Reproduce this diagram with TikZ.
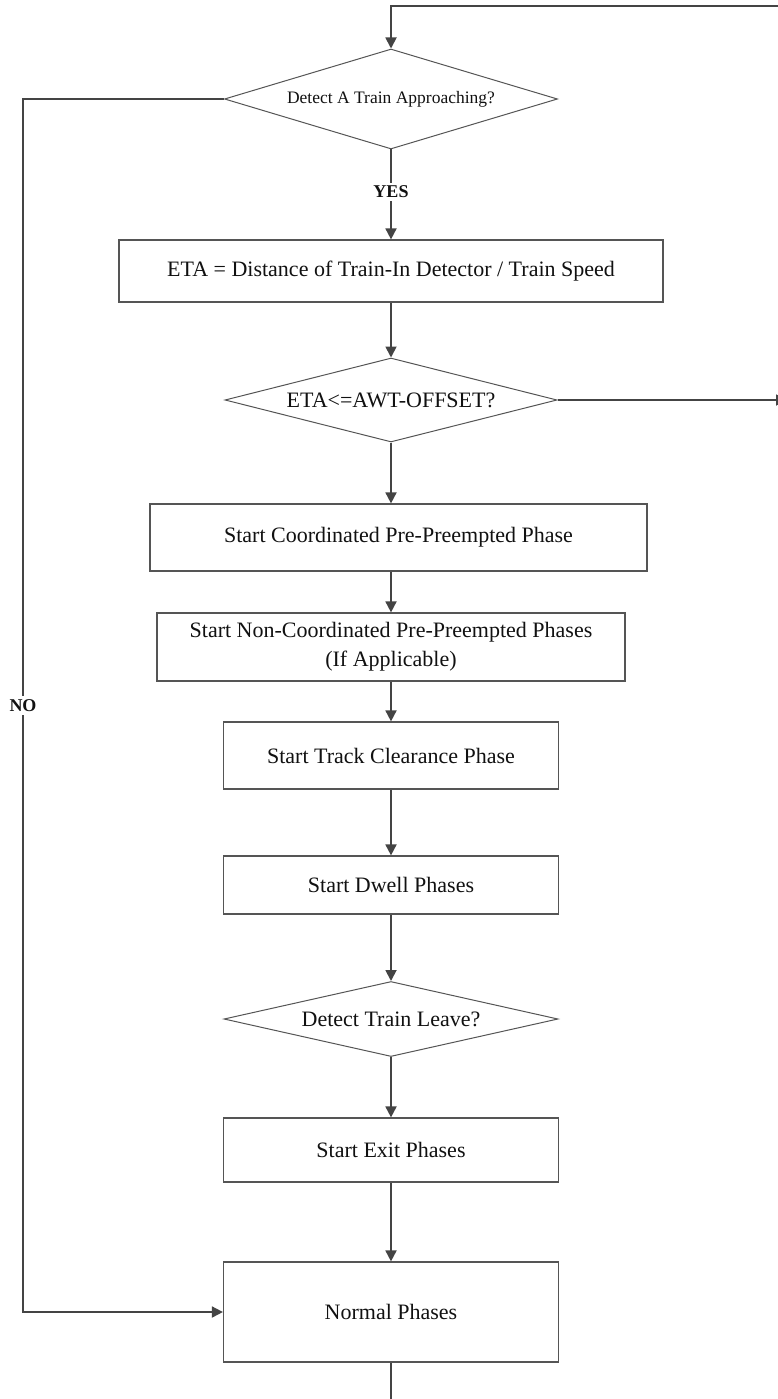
\documentclass[tikz,border=0pt]{standalone}
\usepackage{fontspec}
\setmainfont{Liberation Serif}
\usetikzlibrary{arrows.meta,shapes.geometric}
\definecolor{linec}{HTML}{444444}
\definecolor{boxc}{HTML}{555555}
\definecolor{txtc}{HTML}{111111}
\begin{document}
\begin{tikzpicture}[x=1pt,y=-1pt,
  box/.style={draw=boxc,line width=1.2pt,rectangle,inner sep=0pt,text=txtc,
    font=\fontsize{22}{29}\selectfont,align=center},
  dia/.style={draw=boxc,line width=1pt,diamond,inner sep=0pt},
  dtext/.style={inner sep=0pt,text=txtc,font=\fontsize{22}{26}\selectfont},
  conn/.style={draw=linec,line width=1.8pt},
  tip/.style={-{Triangle[length=11pt,width=11pt]}},
  lab/.style={fill=white,inner sep=3pt,text=txtc,font=\fontsize{18}{20}\selectfont\bfseries}]
\useasboundingbox (0,0) rectangle (777,1399);
\fill[white] (0,0) rectangle (777,1399);

% decisions
\node[dia,minimum width=333pt,minimum height=100pt] (d1) at (391,99) {};
\node[dtext,font=\fontsize{17.5}{20}\selectfont] (d1t) at (391,99) {Detect A Train Approaching?};
\node[dia,minimum width=332pt,minimum height=84pt] (d2) at (391,400) {};
\node[dtext] (d2t) at (391,400) {ETA<=AWT-OFFSET?};
\node[dia,minimum width=334pt,minimum height=75pt] (d3) at (391,1019) {};
\node[dtext] (d3t) at (391,1019) {Detect Train Leave?};

% process boxes
\node[box,minimum width=544pt,minimum height=62pt] (eta) at (391,271) {ETA = Distance of Train-In Detector / Train Speed};
\node[box,minimum width=497pt,minimum height=67pt] (coord) at (398.5,537.5) {Start Coordinated Pre-Preempted Phase};
\node[box,minimum width=468pt,minimum height=68pt] (noncoord) at (391,647) {Start Non-Coordinated Pre-Preempted Phases\\(If Applicable)};
\node[box,minimum width=335pt,minimum height=67pt] (track) at (391,755.5) {Start Track Clearance Phase};
\node[box,minimum width=335pt,minimum height=58pt] (dwell) at (391,885) {Start Dwell Phases};
\node[box,minimum width=335pt,minimum height=64pt] (exit) at (391,1150) {Start Exit Phases};
\node[box,minimum width=335pt,minimum height=100pt] (normal) at (391,1312) {Normal Phases};

% helper coordinates
\coordinate (topr) at (795,6);
\coordinate (topl) at (391,6);
\coordinate (etar) at (787,400);
\coordinate (nol1) at (23,99);
\coordinate (nol2) at (23,1312);
\coordinate (bot) at (391,1410);

% connectors
\draw[conn,tip] (topr) -- (topl) -- (d1.north);
\draw[conn,tip] (d1.south) -- node[lab,pos=0.47] (yes) {YES} (d1.south |- eta.north);
\draw[conn,tip] (d1.south |- eta.south) -- (d2.north);
\draw[conn,tip] (d2.east) -- (etar);
\draw[conn,tip] (d2.south) -- (d2.south |- coord.north);
\draw[conn,tip] (d2.south |- coord.south) -- (noncoord.north);
\draw[conn,tip] (noncoord.south) -- (track.north);
\draw[conn,tip] (track.south) -- (dwell.north);
\draw[conn,tip] (dwell.south) -- (d3.north);
\draw[conn,tip] (d3.south) -- (exit.north);
\draw[conn,tip] (exit.south) -- (normal.north);
\draw[conn] (normal.south) -- (bot);
\draw[conn,tip] (d1.west) -- (nol1) -- node[lab,pos=0.5] (no) {NO} (nol2) -- (normal.west);
\end{tikzpicture}
\end{document}
